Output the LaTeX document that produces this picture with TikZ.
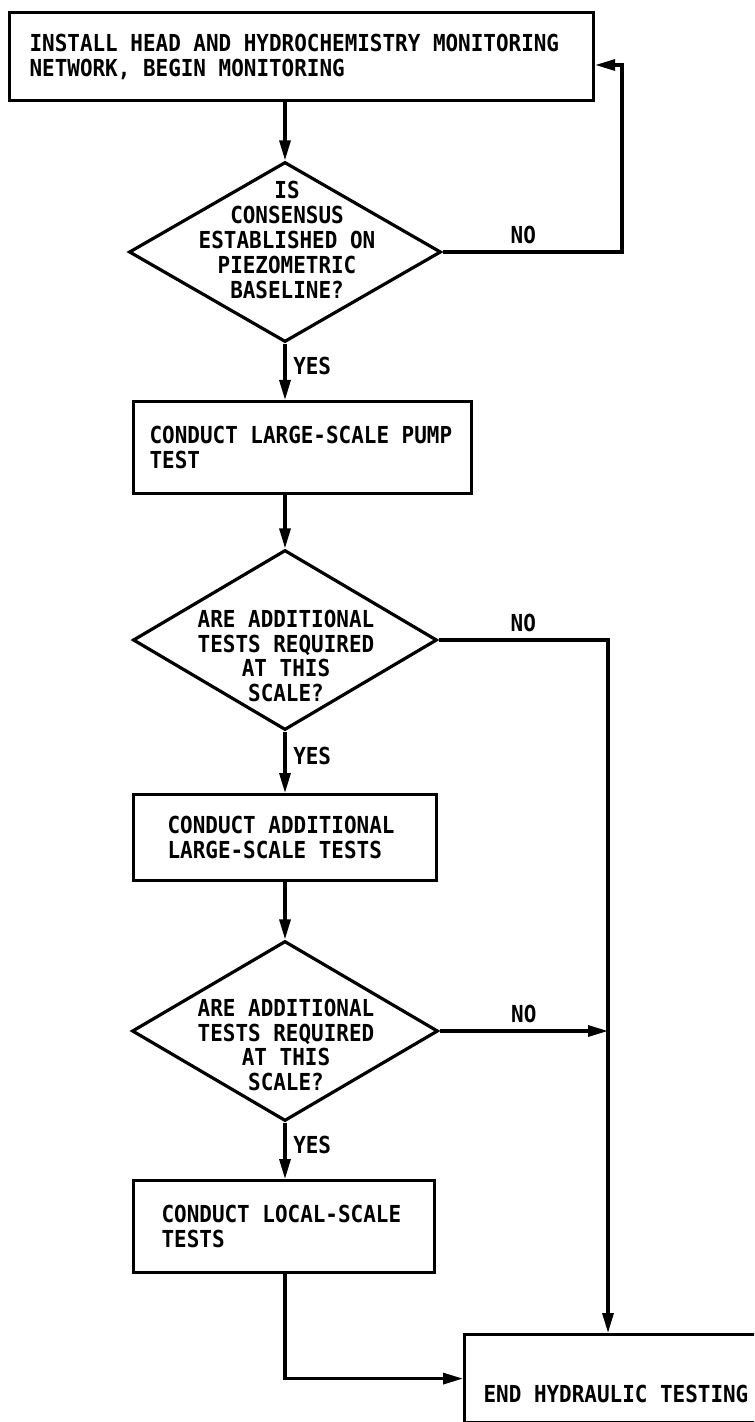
\documentclass[tikz,border=0pt]{standalone}
\usepackage{fontspec}
\newfontfamily\plotfont{DejaVu Sans Mono}[FakeStretch=0.895]
\usetikzlibrary{shapes.geometric,arrows.meta}

\tikzset{
  every node/.style={font=\plotfont\bfseries\fontsize{11.7}{12.4}\selectfont,
    execute at begin node={\spaceskip=6.3pt\relax}},
  stepbox/.style={draw, line width=1.6pt, rectangle, anchor=north west, align=left, inner ysep=0pt},
  decision/.style={draw, line width=1.6pt, diamond, inner sep=0pt},
  asks/.style={align=center, inner sep=0pt},
  flow/.style={line width=1.6pt, -{Triangle[length=10pt,width=5.5pt]}},
}

\begin{document}
\begin{tikzpicture}[x=0.5pt,y=-0.5pt]
    \useasboundingbox (0,0) rectangle (754,1422);
    \clip (0,0) rectangle (754,1422);

    \node[stepbox, minimum width=292pt, minimum height=44pt, inner xsep=10pt, text width=272pt] (install) at (8,11)
        {INSTALL HEAD AND HYDROCHEMISTRY MONITORING\\NETWORK, BEGIN MONITORING};

    \node[decision, minimum width=156pt, minimum height=90pt] (consensus) at (285,252) {};
    \node[asks] (consensustxt) at (287,240) {IS\\CONSENSUS\\ESTABLISHED ON\\PIEZOMETRIC\\BASELINE?};

    \node[stepbox, minimum width=169pt, minimum height=46pt, inner xsep=8pt, text width=153pt] (pump) at (132,400)
        {CONDUCT LARGE-SCALE PUMP\\TEST};

    \node[decision, minimum width=152pt, minimum height=90pt] (moretests) at (285,640) {};
    \node[asks] (moreteststxt) at (286,656) {ARE ADDITIONAL\\TESTS REQUIRED\\AT THIS\\SCALE?};

    \node[stepbox, minimum width=151.5pt, minimum height=43pt, inner xsep=17pt, text width=117.5pt] (additional) at (132,793)
        {CONDUCT ADDITIONAL\\LARGE-SCALE TESTS};

    \node[decision, minimum width=153pt, minimum height=90pt] (localtests) at (285,1031) {};
    \node[asks] (localteststxt) at (286,1045) {ARE ADDITIONAL\\TESTS REQUIRED\\AT THIS\\SCALE?};

    \node[stepbox, minimum width=150.5pt, minimum height=46pt, inner xsep=14pt, text width=122.5pt] (local) at (132,1179)
        {CONDUCT LOCAL-SCALE\\TESTS};

    \node[stepbox, minimum width=170pt, minimum height=44pt, inner xsep=9.5pt, text width=151pt, text height=24pt] (finish) at (463,1333)
        {END HYDRAULIC TESTING};

    \coordinate (loop) at (622,65);
    \coordinate (rail) at (608,640);

    \draw[flow] (consensus.north |- install.south) -- (consensus.north);
    \draw[flow] (consensus.south) -- node[right, pos=0.4] (yes1) {YES} (consensus.south |- pump.north);
    \draw[flow] (consensus.east) -- node[above, pos=0.45] (no1) {NO} (consensus.east -| loop) -- (loop) -- (loop -| install.east);

    \draw[flow] (moretests.north |- pump.south) -- (moretests.north);
    \draw[flow] (moretests.south) -- node[right, pos=0.4] (yes2) {YES} (moretests.south |- additional.north);
    \draw[flow] (moretests.east) -- node[above] (no2) {NO} (rail) -- (rail |- finish.north);

    \draw[flow] (localtests.north |- additional.south) -- (localtests.north);
    \draw[flow] (localtests.south) -- node[right, pos=0.4] (yes3) {YES} (localtests.south |- local.north);
    \draw[flow] (localtests.east) -- node[above] (no3) {NO} (localtests.east -| rail);

    \draw[flow] (localtests.south |- local.south) |- (finish.west);
    % \draw[flow] (local.south) -- (finish.north);
\end{tikzpicture}
\end{document}
